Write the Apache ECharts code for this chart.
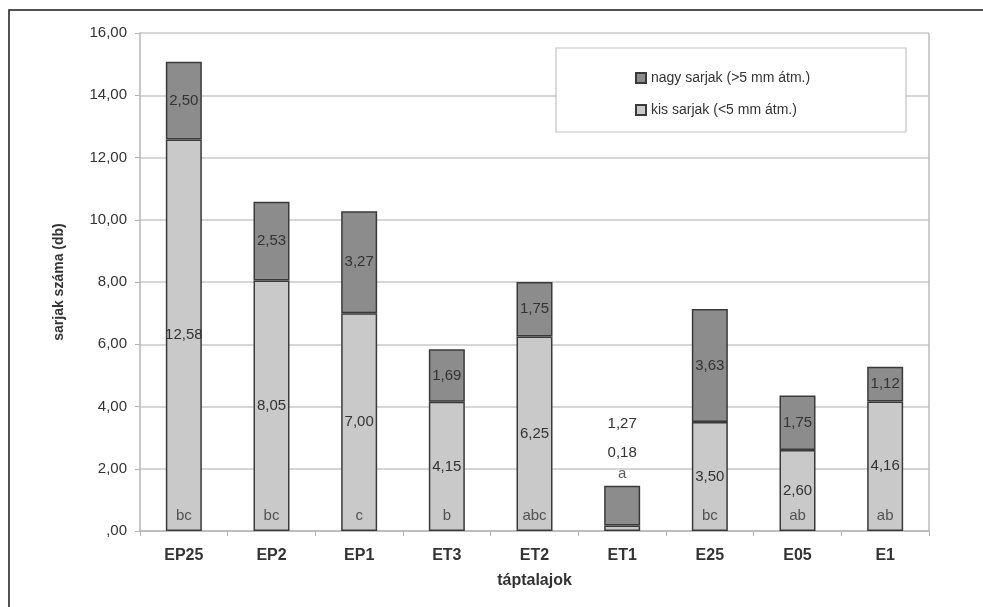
<!DOCTYPE html>
<html>
<head>
<meta charset="utf-8">
<script src="https://cdn.jsdelivr.net/npm/echarts@6/dist/echarts.min.js"></script>
<style>html,body{margin:0;padding:0;background:#fff;}#c{width:983px;height:607px;}</style>
</head>
<body>
<div id="c"></div>
<script>
const categories = ['EP25', 'EP2', 'EP1', 'ET3', 'ET2', 'ET1', 'E25', 'E05', 'E1'];
const kisSarjak = [12.58, 8.05, 7.00, 4.15, 6.25, 0.18, 3.50, 2.60, 4.16];
const nagySarjak = [2.50, 2.53, 3.27, 1.69, 1.75, 1.27, 3.63, 1.75, 1.12];
const letters = ['bc', 'bc', 'c', 'b', 'abc', 'a', 'bc', 'ab', 'ab'];
const yTicks = [0, 2, 4, 6, 8, 10, 12, 14, 16];

const fmt = v => {
  const s = v.toFixed(2).replace('.', ',');
  return v === 0 ? s.slice(1) : s;
};
const FONT = 'Liberation Sans, Arial, sans-serif';
const specialIdx = categories.indexOf('ET1');

const kisData = kisSarjak.map((v, i) => i === specialIdx
  ? { value: v, label: { position: 'top', offset: [0, -60] } }
  : v);
const nagyData = nagySarjak.map((v, i) => i === specialIdx
  ? { value: v, label: { position: 'top', offset: [0, -50] } }
  : v);
const letterData = letters.map((t, i) => ({
  value: 0, name: t,
  label: { offset: [0, i === specialIdx ? -57 : -15] }
}));

const chart = echarts.init(document.getElementById('c'), null, { renderer: 'canvas' });
chart.setOption({
  backgroundColor: '#ffffff',
  animation: false,
  textStyle: { fontFamily: FONT },
  graphic: [
    { type: 'rect', shape: { x: 9, y: 10, width: 990, height: 620 }, style: { fill: 'none', stroke: '#1a1a1a', lineWidth: 1.5 }, z: 100 },
    { type: 'rect', shape: { x: 556, y: 48, width: 350, height: 84 }, style: { fill: '#ffffff', stroke: '#c4c4c4', lineWidth: 1.2 }, z: 5 },
    { type: 'line', shape: { x1: 929, y1: 33, x2: 929, y2: 531 }, style: { stroke: '#bdbdbd', lineWidth: 1.5 }, z: 1 }
  ],
  grid: { left: 140, right: 54, top: 33, bottom: 76, containLabel: false },
  legend: {
    data: ['nagy sarjak (>5 mm átm.)', 'kis sarjak (<5 mm átm.)'],
    orient: 'vertical',
    left: 630, top: 66,
    itemWidth: 10, itemHeight: 10, itemGap: 18,
    icon: 'rect',
    textStyle: { fontSize: 14, color: '#333', fontFamily: FONT },
    z: 10
  },
  xAxis: {
    type: 'category',
    data: categories,
    name: 'táptalajok',
    nameLocation: 'middle',
    nameGap: 42,
    nameTextStyle: { fontSize: 16, fontWeight: 'bold', color: '#333', fontFamily: FONT },
    axisLine: { lineStyle: { color: '#b5b5b5', width: 1.5 } },
    axisTick: { show: true, length: 5, lineStyle: { color: '#b5b5b5' } },
    axisLabel: { fontSize: 16, fontWeight: 'bold', color: '#333', margin: 17, fontFamily: FONT }
  },
  yAxis: {
    type: 'value',
    min: 0, max: 16, interval: 2,
    name: 'sarjak száma (db)',
    nameLocation: 'middle',
    nameGap: 74,
    nameTextStyle: { fontSize: 14, fontWeight: 'bold', color: '#333', fontFamily: FONT },
    axisLine: { show: true, lineStyle: { color: '#b5b5b5', width: 1.5 } },
    axisTick: { show: true, length: 5, lineStyle: { color: '#b5b5b5' } },
    axisLabel: { fontSize: 15, color: '#333', margin: 13, fontFamily: FONT,
      formatter: v => yTicks.includes(v) ? fmt(v) : '' },
    splitLine: { lineStyle: { color: '#c8c8c8', width: 1.5 } }
  },
  series: [
    {
      name: 'kis sarjak (<5 mm átm.)',
      type: 'bar', stack: 'total', barWidth: 36,
      data: kisData,
      itemStyle: { color: '#c9c9c9', borderColor: '#3a3a3a', borderWidth: 1.5 },
      label: { show: true, position: 'inside', fontSize: 15, color: '#333', fontFamily: FONT,
        formatter: p => fmt(p.value) },
      z: 3
    },
    {
      name: 'nagy sarjak (>5 mm átm.)',
      type: 'bar', stack: 'total', barWidth: 36,
      data: nagyData,
      itemStyle: { color: '#8c8c8c', borderColor: '#3a3a3a', borderWidth: 1.5 },
      label: { show: true, position: 'inside', fontSize: 15, color: '#333', fontFamily: FONT,
        formatter: p => fmt(p.value) },
      z: 3
    },
    {
      name: 'letters',
      type: 'scatter',
      data: letterData,
      symbolSize: 0,
      silent: true,
      label: { show: true, position: 'inside', fontSize: 15, color: '#333', fontFamily: FONT,
        formatter: p => p.name },
      z: 6
    }
  ]
});
</script>
</body>
</html>
